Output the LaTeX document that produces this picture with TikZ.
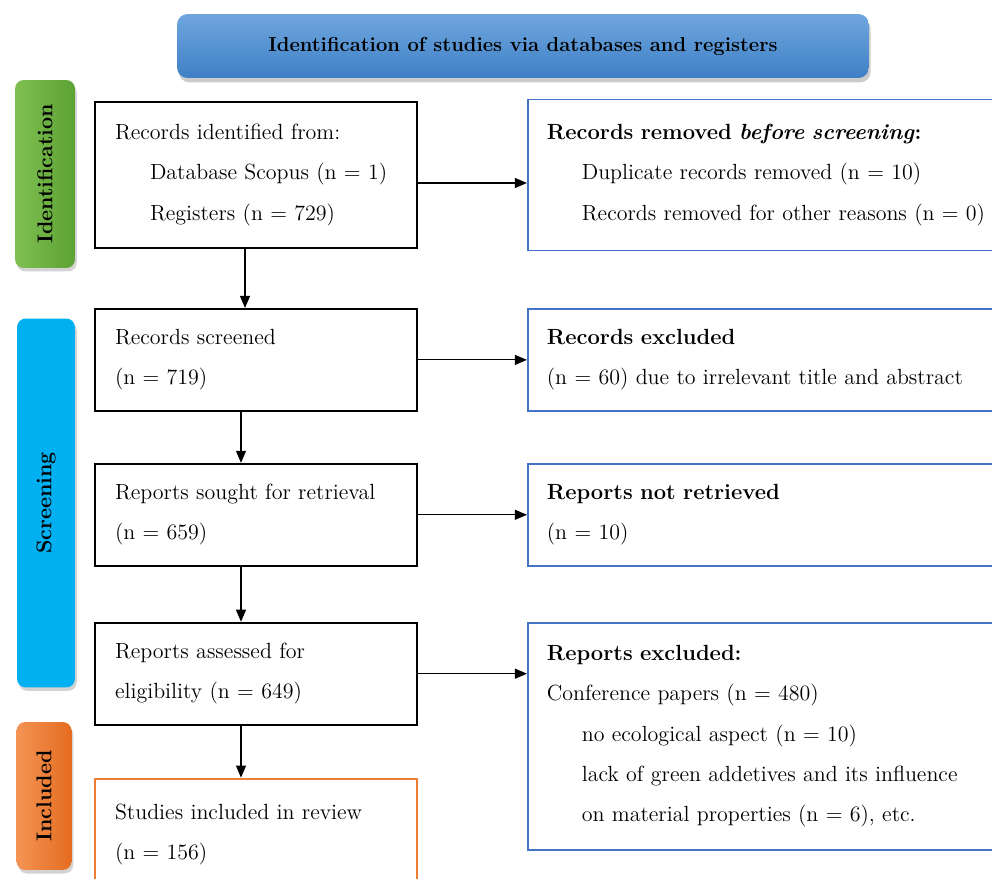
\documentclass[tikz,border=0pt]{standalone}
\usepackage{tikz}
\usetikzlibrary{positioning,shadows,arrows.meta}
\definecolor{titleTop}{RGB}{112,166,222}
\definecolor{titleBot}{RGB}{62,128,198}
\definecolor{identL}{RGB}{128,192,82}
\definecolor{identR}{RGB}{92,162,52}
\definecolor{screenCyan}{RGB}{0,176,240}
\definecolor{inclL}{RGB}{243,148,84}
\definecolor{inclR}{RGB}{229,108,32}
\definecolor{boxBlue}{RGB}{68,114,196}
\definecolor{boxOrange}{RGB}{237,125,49}
\newcommand{\tIndent}{\hspace*{0.7cm}}
\tikzstyle{arrow} = [->,>={Triangle[length=2.4mm,width=2mm]},line width=0.6pt]
\tikzstyle{tRect} = [rectangle, draw=black, line width=1.1pt, align=left, text width=5.64cm, inner xsep=0.4cm, minimum width=6.44cm, minimum height=2.04cm, font=\fontsize{12.5}{22.8}\selectfont]
\tikzstyle{tBlueRect} = [tRect, draw=boxBlue, text width=10cm, inner xsep=0.38cm]
\tikzstyle{tPhase} = [rectangle, rounded corners=5pt, rotate=90, align=center, font=\bfseries\fontsize{12.2}{14}\selectfont, drop shadow={shadow xshift=1pt, shadow yshift=-2pt, opacity=0.35}]
\tikzstyle{tTitle} = [rectangle, rounded corners=6pt, align=center, minimum width=13.84cm, minimum height=1.28cm, top color=titleTop, bottom color=titleBot, font=\bfseries\fontsize{11.5}{13}\selectfont, drop shadow={shadow xshift=1pt, shadow yshift=-2.5pt, opacity=0.4}]

\begin{document}
\begin{tikzpicture}[x=0.02cm, y=-0.02cm]
        \clip (0,0) rectangle (992,879);
        % header and phase bars
        \node[tTitle] (Title) at (523,46) {Identification of studies via databases and registers};
        \node[tPhase, left color=identL, right color=identR, minimum width=3.76cm, minimum height=1.2cm] (PhIdent) at (45,174) {Identification};
        \node[tPhase, fill=screenCyan, minimum width=7.38cm, minimum height=1.16cm] (PhScreen) at (46,503) {Screening};
        \node[tPhase, left color=inclL, right color=inclR, minimum width=2.96cm, minimum height=1.1cm] (PhIncl) at (44,796) {Included};
        % main column
        \node[tRect, minimum height=2.92cm] (Ident) at (256,175) {Records identified from:\\\tIndent Database Scopus (n = 1)\\\tIndent Registers (n = 729)};
        \node[tRect] (Screened) [below=1.18cm of Ident] {Records screened\\(n = 719)};
        \node[tRect] (Sought) [below=1.02cm of Screened] {Reports sought for retrieval\\(n = 659)};
        \node[tRect] (Assessed) [below=1.1cm of Sought] {Reports assessed for\\eligibility (n = 649)};
        \node[tRect, draw=boxOrange, minimum height=2.24cm] (Included) [below=1.04cm of Assessed] {Studies included in review\\(n = 156)};
        % side column
        \node[tBlueRect, minimum height=3.02cm] (Removed) [right=2.18cm of Ident] {\textbf{Records removed \textit{before screening}:}\\\tIndent Duplicate records removed (n = 10)\\\tIndent Records removed for other reasons (n = 0)};
        \node[tBlueRect] (Excluded) [right=2.18cm of Screened] {\textbf{Records excluded}\\(n = 60) due to irrelevant title and abstract};
        \node[tBlueRect] (NotRetr) [right=2.18cm of Sought] {\textbf{Reports not retrieved}\\(n = 10)};
        \node[tBlueRect, minimum height=4.54cm] (RepExcl) [right=2.18cm of Assessed.north east, anchor=north west] {\textbf{Reports excluded:}\\Conference papers (n = 480)\\\tIndent no ecological aspect (n = 10)\\\tIndent lack of green addetives and its influence\\\tIndent on material properties (n = 6), etc.};
        % connectors
        \draw[arrow] ([xshift=-0.22cm]Ident.south) -- ([xshift=-0.22cm]Ident.south |- Screened.north);
        \draw[arrow] ([xshift=-0.3cm]Screened.south) -- ([xshift=-0.3cm]Screened.south |- Sought.north);
        \draw[arrow] ([xshift=-0.3cm]Sought.south) -- ([xshift=-0.3cm]Sought.south |- Assessed.north);
        \draw[arrow] ([xshift=-0.3cm]Assessed.south) -- ([xshift=-0.3cm]Assessed.south |- Included.north);
        \draw[arrow] ([yshift=-0.16cm]Ident.east) -- ([yshift=-0.16cm]Ident.east -| Removed.west);
        \draw[arrow] (Screened) -- (Excluded);
        \draw[arrow] (Sought) -- (NotRetr);
        \draw[arrow] (Assessed) -- (Assessed -| RepExcl.west);
\end{tikzpicture}
\end{document}
